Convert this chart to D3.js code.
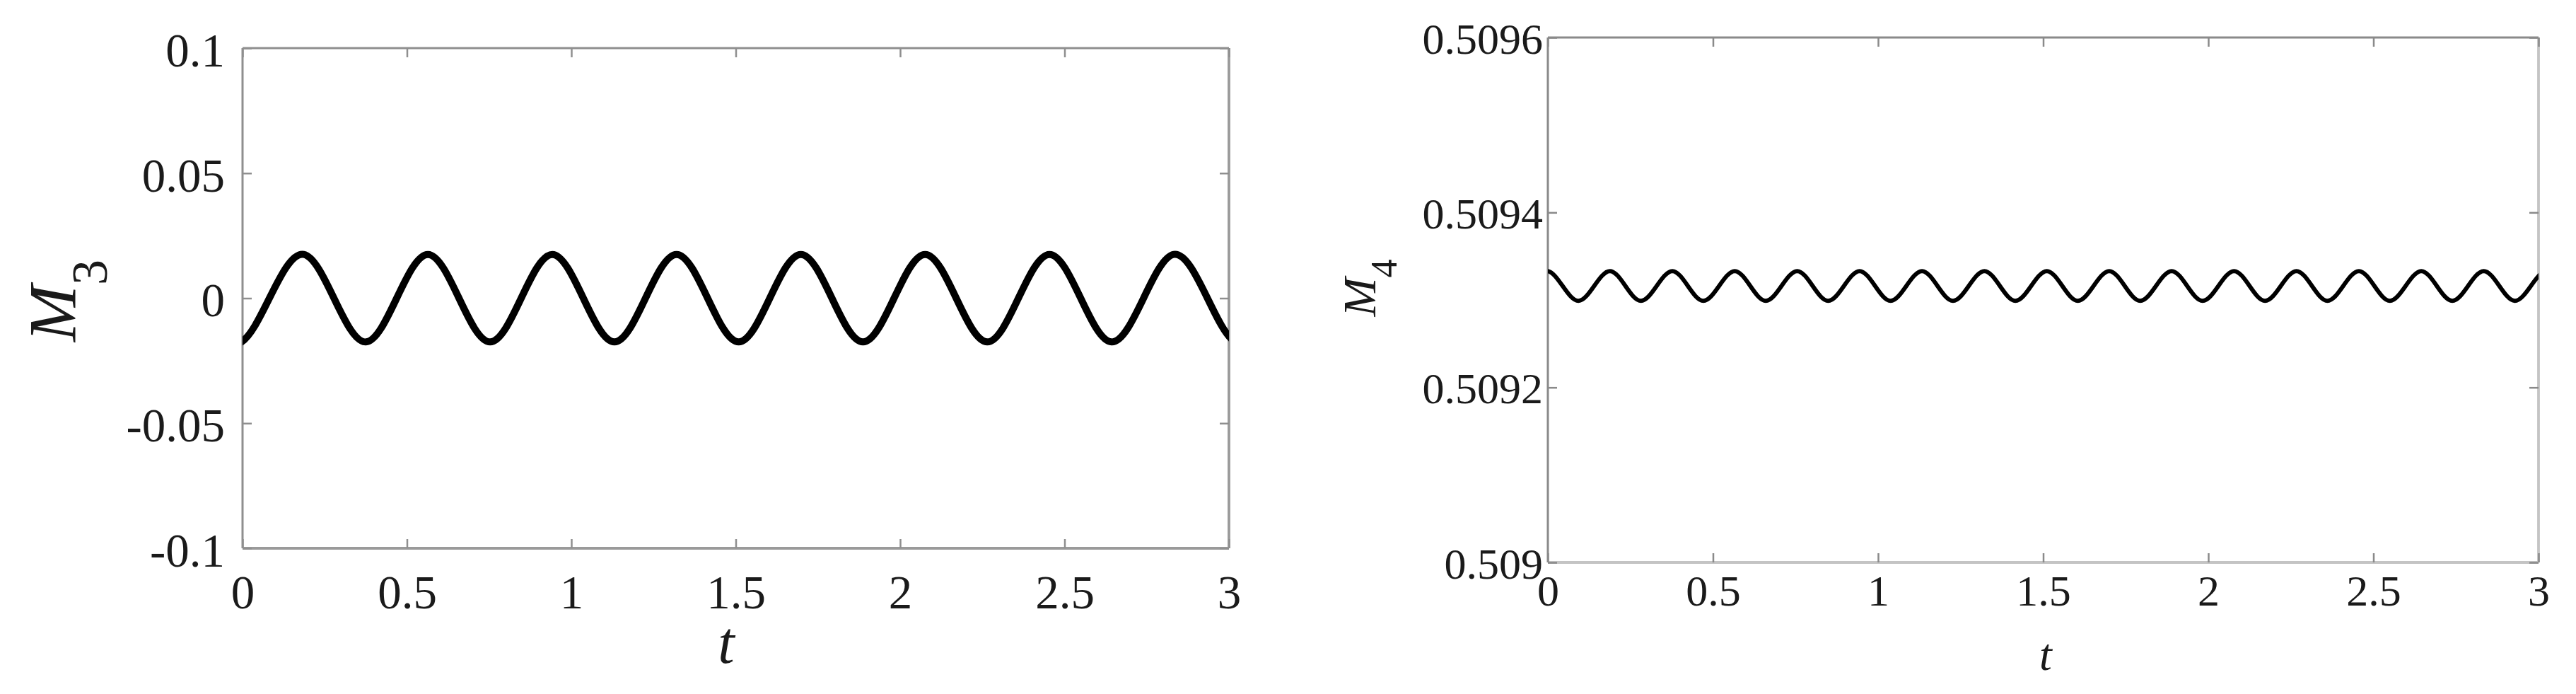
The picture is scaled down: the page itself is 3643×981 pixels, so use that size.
<!DOCTYPE html>
<html lang="en">

<head>
    <meta charset="UTF-8">
    <title>M3 and M4 versus t</title>
    <script src="https://cdn.jsdelivr.net/npm/d3@7/dist/d3.min.js"></script>

    <style>

        body {
            margin: 0;
            background: #fff;
        }

        svg text {
            font-family: "Liberation Serif", "Times New Roman", serif;
            fill: #1a1a1a;
        }

        .curve {
            fill: none;
            stroke: #000;
            stroke-linejoin: round;
            stroke-linecap: round;
        }

    </style>

</head>

<body>

    <svg width="3643" height="981"></svg>

    <script>

        // shared time axis
        var tTicks = [0, 0.5, 1, 1.5, 2, 2.5, 3];
        var tTickLabels = ["0", "0.5", "1", "1.5", "2", "2.5", "3"];

        // M3: peaks and troughs (points outside [0,3] only steady the spline, they get clipped)
        var m3Time = [-0.192, -0.003, 0.186, 0.375, 0.564, 0.753, 0.942, 1.131, 1.320, 1.509,
                      1.698, 1.887, 2.076, 2.265, 2.454, 2.643, 2.832, 3.018, 3.207];
        var m3Value = [0.0175, -0.0175, 0.0175, -0.0175, 0.0175, -0.0175, 0.0175, -0.0175, 0.0175, -0.0175,
                       0.0175, -0.0175, 0.0175, -0.0175, 0.0175, -0.0175, 0.0175, -0.0175, 0.0175];
        var m3Ticks = [-0.1, -0.05, 0, 0.05, 0.1];
        var m3TickLabels = ["-0.1", "-0.05", "0", "0.05", "0.1"];

        // M4: peaks and troughs
        var m4Time = [-0.190, -0.095, -0.001, 0.093, 0.188, 0.282, 0.377, 0.471, 0.566, 0.660, 0.755, 0.849,
                      0.944, 1.038, 1.133, 1.227, 1.322, 1.416, 1.511, 1.605, 1.700, 1.794,
                      1.889, 1.983, 2.078, 2.172, 2.267, 2.361, 2.456, 2.550, 2.645, 2.739,
                      2.834, 2.928, 3.023, 3.117, 3.212];
        var m4Value = [0.509333, 0.509299,
                       0.509333, 0.509299, 0.509333, 0.509299, 0.509333, 0.509299, 0.509333, 0.509299,
                       0.509333, 0.509299, 0.509333, 0.509299, 0.509333, 0.509299, 0.509333, 0.509299,
                       0.509333, 0.509299, 0.509333, 0.509299, 0.509333, 0.509299, 0.509333, 0.509299,
                       0.509333, 0.509299, 0.509333, 0.509299, 0.509333, 0.509299, 0.509333, 0.509299,
                       0.509333, 0.509299, 0.509333];
        var m4Ticks = [0.509, 0.5092, 0.5094, 0.5096];
        var m4TickLabels = ["0.509", "0.5092", "0.5094", "0.5096"];

        var svg = d3.select("svg");

        function drawPanel(p) {

            var x = d3.scaleLinear().domain([0, 3]).range([p.left, p.right]);
            var y = d3.scaleLinear().domain(p.yDomain).range([p.bottom, p.top]);

            var g = svg.append("g");

            g.append("clipPath")
                .attr("id", p.id + "-clip")
                .append("rect")
                .attr("x", p.left)
                .attr("y", p.top)
                .attr("width", p.right - p.left)
                .attr("height", p.bottom - p.top);

            // frame
            g.append("line").attr("x1", p.left).attr("y1", p.top).attr("x2", p.right).attr("y2", p.top)
                .attr("stroke", p.frameDark).attr("stroke-width", p.frameWidth);
            g.append("line").attr("x1", p.left).attr("y1", p.top).attr("x2", p.left).attr("y2", p.bottom)
                .attr("stroke", p.frameDark).attr("stroke-width", p.frameWidth);
            g.append("line").attr("x1", p.left).attr("y1", p.bottom).attr("x2", p.right).attr("y2", p.bottom)
                .attr("stroke", p.frameLight).attr("stroke-width", p.frameWidth + 0.8);
            g.append("line").attr("x1", p.right).attr("y1", p.top).attr("x2", p.right).attr("y2", p.bottom)
                .attr("stroke", p.frameLight).attr("stroke-width", p.frameWidth + 0.8);

            var xLabels = function(d, i) { return tTickLabels[i]; };
            var yLabels = function(d, i) { return p.yLabels[i]; };

            var axes = [
                { axis: d3.axisBottom(x).tickValues(tTicks).tickFormat(xLabels).tickPadding(p.xPad), t: "translate(0," + p.bottom + ")" },
                { axis: d3.axisTop(x).tickValues(tTicks).tickFormat(""), t: "translate(0," + p.top + ")" },
                { axis: d3.axisLeft(y).tickValues(p.yTicks).tickFormat(yLabels).tickPadding(p.yPad), t: "translate(" + p.left + ",0)" },
                { axis: d3.axisRight(y).tickValues(p.yTicks).tickFormat(""), t: "translate(" + p.right + ",0)" }
            ];

            axes.forEach(function(a) {
                var ag = g.append("g")
                    .attr("transform", a.t)
                    .call(a.axis.tickSizeInner(-p.tickLen).tickSizeOuter(0));
                ag.select(".domain").remove();
                ag.selectAll(".tick line")
                    .attr("stroke", p.frameDark)
                    .attr("stroke-width", 2.5);
                ag.selectAll(".tick text")
                    .attr("fill", "#1a1a1a")
                    .style("font-size", p.fontSize + "px")
                    .style("font-family", "\"Liberation Serif\", \"Times New Roman\", serif");
            });

            g.selectAll(".tick text").filter(function() { return d3.select(this).attr("dy") === "0.32em"; })
                .attr("dy", p.yDy);

            var line = d3.line()
                .x(function(d) { return x(d[0]); })
                .y(function(d) { return y(d[1]); })
                .curve(d3.curveNatural);

            var pts = d3.zip(p.time, p.value);

            g.append("path")
                .attr("class", "curve")
                .attr("clip-path", "url(#" + p.id + "-clip)")
                .attr("stroke-width", p.lineWidth)
                .attr("d", line(pts));

            // y label, rotated, with subscript
            var yl = g.append("text")
                .attr("transform", "translate(" + p.yLabelX + "," + p.yLabelY + ") rotate(-90)")
                .attr("text-anchor", "middle");
            yl.append("tspan")
                .style("font-style", "italic")
                .style("font-size", p.yLabelSize + "px")
                .text("M");
            yl.append("tspan")
                .attr("dy", p.subDy)
                .style("font-size", p.subSize + "px")
                .text(p.sub);

            g.append("text")
                .attr("x", p.tX)
                .attr("y", p.tY)
                .attr("text-anchor", "middle")
                .style("font-style", "italic")
                .style("font-size", p.tSize + "px")
                .text("t");
        }

        drawPanel({
            id: "m3",
            left: 343, right: 1738, top: 68, bottom: 775,
            yDomain: [-0.1, 0.1], yTicks: m3Ticks, yLabels: m3TickLabels,
            time: m3Time, value: m3Value,
            fontSize: 67, xPad: 37, yPad: 25, yDy: "0.38em", tickLen: 13,
            lineWidth: 10, frameDark: "#8f8f8f", frameLight: "#9a9a9a", frameWidth: 3,
            yLabelX: 107, yLabelY: 425, yLabelSize: 96, sub: "3", subSize: 72, subDy: 44,
            tX: 1027, tY: 937, tSize: 84
        });

        drawPanel({
            id: "m4",
            left: 2189, right: 3590, top: 53, bottom: 795,
            yDomain: [0.509, 0.5096], yTicks: m4Ticks, yLabels: m4TickLabels,
            time: m4Time, value: m4Value,
            fontSize: 62, xPad: 17, yPad: 7, yDy: "0.36em", tickLen: 13,
            lineWidth: 6, frameDark: "#8a8a8a", frameLight: "#c4c4c4", frameWidth: 3,
            yLabelX: 1945, yLabelY: 407, yLabelSize: 66, sub: "4", subSize: 52, subDy: 30,
            tX: 2893, tY: 947, tSize: 64
        });

    </script>

</body>

</html>
